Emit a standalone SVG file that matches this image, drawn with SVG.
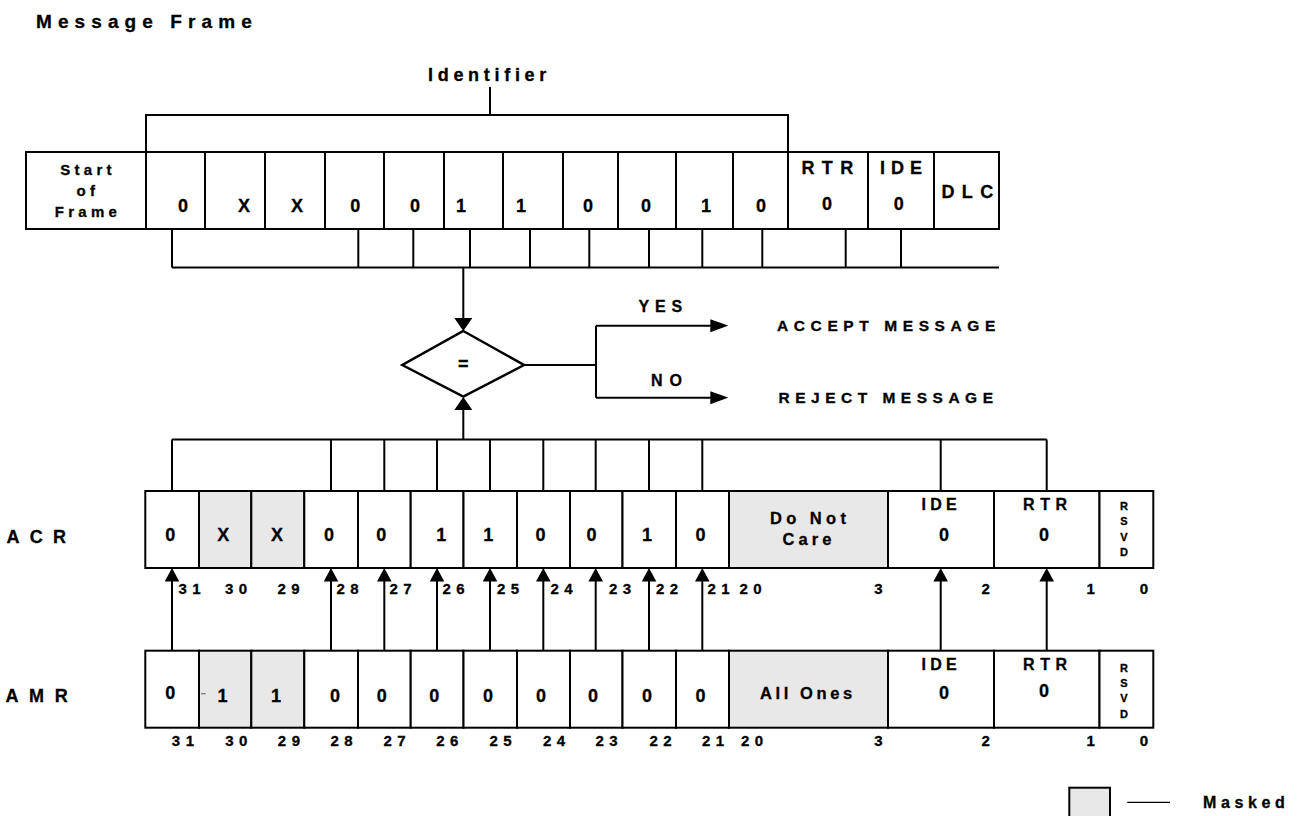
<svg xmlns="http://www.w3.org/2000/svg" width="1298" height="816" viewBox="0 0 1298 816">
<style>
.t{font-family:'Liberation Sans',Arial,Helvetica,sans-serif;font-weight:bold;fill:#000;stroke:#000;stroke-width:0.3}
.c{text-anchor:middle}
.d{font-size:18px;text-anchor:middle}
.n{font-size:15px;letter-spacing:5.5px}
.n1{font-size:15px;text-anchor:middle}
.s{font-size:11px;text-anchor:middle}
.box{fill:#fff;stroke:#000;stroke-width:2}
.m{fill:#e8e8e8;stroke:#000;stroke-width:2}
.ln{fill:none;stroke:#000;stroke-width:2}
</style>
<defs>
<marker id="av" markerUnits="userSpaceOnUse" markerWidth="14" markerHeight="15" refX="9" refY="7.3" orient="auto"><path d="M0,0 L13.5,7.3 L0,14.6Z" fill="#000"/></marker>
<marker id="ad" markerUnits="userSpaceOnUse" markerWidth="13" markerHeight="18" refX="8" refY="9" orient="auto"><path d="M0,0 L13,9 L0,18Z" fill="#000"/></marker>
<marker id="ah" markerUnits="userSpaceOnUse" markerWidth="18" markerHeight="13" refX="13" refY="6.5" orient="auto"><path d="M0,0 L18,6.5 L0,13Z" fill="#000"/></marker>
</defs>
<rect width="1298" height="816" fill="#fff"/>

<g id="title"><text class="t" x="36" y="28" font-size="19" letter-spacing="6.1">Message Frame</text></g>
<g id="identifier-label"><text class="t" x="428" y="80.5" font-size="18" letter-spacing="4.7">Identifier</text></g>

<g id="frame">
  <g id="f-sof"><rect class="box" x="26" y="152" width="120" height="77"/>
    <text class="t c" x="88" font-size="15" letter-spacing="4.3"><tspan x="88" y="174.5">Start</tspan><tspan x="88" y="195.5">of</tspan><tspan x="88" y="216.5">Frame</tspan></text></g>
  <g id="f-b10"><rect class="box" x="146" y="152" width="59" height="77"/><text class="t d" x="183" y="212">0</text></g>
  <g id="f-b9"><rect class="box" x="205" y="152" width="60" height="77"/><text class="t d" x="244" y="212">X</text></g>
  <g id="f-b8"><rect class="box" x="265" y="152" width="60" height="77"/><text class="t d" x="297" y="212">X</text></g>
  <g id="f-b7"><rect class="box" x="325" y="152" width="59" height="77"/><text class="t d" x="355.3" y="212">0</text></g>
  <g id="f-b6"><rect class="box" x="384" y="152" width="60" height="77"/><text class="t d" x="415" y="212">0</text></g>
  <g id="f-b5"><rect class="box" x="444" y="152" width="59" height="77"/><text class="t d" x="461" y="212">1</text></g>
  <g id="f-b4"><rect class="box" x="503" y="152" width="60" height="77"/><text class="t d" x="521" y="212">1</text></g>
  <g id="f-b3"><rect class="box" x="563" y="152" width="55" height="77"/><text class="t d" x="588" y="212">0</text></g>
  <g id="f-b2"><rect class="box" x="618" y="152" width="58" height="77"/><text class="t d" x="646" y="212">0</text></g>
  <g id="f-b1"><rect class="box" x="676" y="152" width="57" height="77"/><text class="t d" x="706" y="212">1</text></g>
  <g id="f-b0"><rect class="box" x="733" y="152" width="55" height="77"/><text class="t d" x="761" y="212">0</text></g>
  <g id="f-rtr"><rect class="box" x="788" y="152" width="80" height="77"/>
    <text class="t c" x="831" y="174" font-size="18" letter-spacing="7.3">RTR</text><text class="t d" x="827" y="209.5">0</text></g>
  <g id="f-ide"><rect class="box" x="868" y="152" width="66" height="77"/>
    <text class="t c" x="904" y="174" font-size="18" letter-spacing="6">IDE</text><text class="t d" x="898.7" y="209.5">0</text></g>
  <g id="f-dlc"><rect class="box" x="934" y="152" width="65" height="77"/>
    <text class="t c" x="971" y="198" font-size="18" letter-spacing="7.3">DLC</text></g>
</g>

<g id="compare">
  <polygon points="463.3,331 524,365 463.3,396.7 402.3,365" fill="#fff" stroke="#000" stroke-width="2.5"/>
  <text class="t c" x="463.3" y="369.8" font-size="18">=</text>
</g>

<g id="results">
  <text class="t" x="638.5" y="311.7" font-size="16" letter-spacing="5.8">YES</text>
  <text class="t" x="651" y="386.4" font-size="16" letter-spacing="7">NO</text>
  <text class="t" x="777" y="330.5" font-size="15.5" letter-spacing="5.6">ACCEPT MESSAGE</text>
  <text class="t" x="778.5" y="402.8" font-size="15.5" letter-spacing="5.5">REJECT MESSAGE</text>
</g>

<g id="acr">
  <text class="t" x="6.5" y="542.5" font-size="18" letter-spacing="10.2">ACR</text>
  <g id="acr-31"><rect class="box" x="145.3" y="491" width="53.7" height="77"/><text class="t d" x="170.3" y="541">0</text></g>
  <g id="acr-30"><rect class="m" x="199" y="491" width="52.3" height="77"/><text class="t d" x="223.3" y="541">X</text></g>
  <g id="acr-29"><rect class="m" x="251.3" y="491" width="53" height="77"/><text class="t d" x="277" y="541">X</text></g>
  <g id="acr-28"><rect class="box" x="304.3" y="491" width="53.7" height="77"/><text class="t d" x="329" y="541">0</text></g>
  <g id="acr-27"><rect class="box" x="358" y="491" width="52.7" height="77"/><text class="t d" x="381.3" y="541">0</text></g>
  <g id="acr-26"><rect class="box" x="410.7" y="491" width="52.8" height="77"/><text class="t d" x="441.3" y="541">1</text></g>
  <g id="acr-25"><rect class="box" x="463.5" y="491" width="53.5" height="77"/><text class="t d" x="488.3" y="541">1</text></g>
  <g id="acr-24"><rect class="box" x="517" y="491" width="53" height="77"/><text class="t d" x="540.6" y="541">0</text></g>
  <g id="acr-23"><rect class="box" x="570" y="491" width="52.5" height="77"/><text class="t d" x="591.4" y="541">0</text></g>
  <g id="acr-22"><rect class="box" x="622.5" y="491" width="53.5" height="77"/><text class="t d" x="647" y="541">1</text></g>
  <g id="acr-21"><rect class="box" x="676" y="491" width="53" height="77"/><text class="t d" x="700.5" y="541">0</text></g>
  <g id="acr-dnc"><rect class="m" x="729" y="491" width="159" height="77"/>
    <text class="t c" x="810.2" y="524.2" font-size="16.5" letter-spacing="4.4">Do Not</text>
    <text class="t c" x="809" y="544.9" font-size="16.5" letter-spacing="4.1">Care</text></g>
  <g id="acr-ide"><rect class="box" x="888" y="491" width="106" height="77"/>
    <text class="t c" x="941.2" y="509.7" font-size="16" letter-spacing="4.3">IDE</text><text class="t d" x="944" y="540.5">0</text></g>
  <g id="acr-rtr"><rect class="box" x="994" y="491" width="105.5" height="77"/>
    <text class="t c" x="1047.8" y="509.7" font-size="16" letter-spacing="5.5">RTR</text><text class="t d" x="1044" y="540.5">0</text></g>
  <g id="acr-rsvd"><rect class="box" x="1099.5" y="491" width="53.8" height="77"/>
    <text class="t s" x="1124" y="509.7">R</text><text class="t s" x="1124" y="524.7">S</text><text class="t s" x="1124" y="540.7">V</text><text class="t s" x="1124" y="556.3">D</text></g>
  <g id="acr-bits">
    <text class="t n" x="178.5" y="594.4">31</text><text class="t n" x="225" y="594.4">30</text><text class="t n" x="277.5" y="594.4">29</text>
    <text class="t n" x="336.5" y="594.4">28</text><text class="t n" x="389.5" y="594.4">27</text><text class="t n" x="442.5" y="594.4">26</text>
    <text class="t n" x="497" y="594.4">25</text><text class="t n" x="550.5" y="594.4">24</text><text class="t n" x="609" y="594.4">23</text>
    <text class="t n" x="656" y="594.4">22</text><text class="t n" x="707.5" y="594.4">21</text><text class="t n" x="739.5" y="594.4">20</text>
    <text class="t n1" x="878.3" y="594.4">3</text><text class="t n1" x="985.7" y="594.4">2</text><text class="t n1" x="1090.7" y="594.4">1</text><text class="t n1" x="1144" y="594.4">0</text>
  </g>
</g>

<g id="amr">
  <text class="t" x="5.5" y="701.5" font-size="18" letter-spacing="10.6">AMR</text>
  <g id="amr-31"><rect class="box" x="145.3" y="650.7" width="53.7" height="77"/><text class="t d" x="170.3" y="698.7">0</text></g>
  <g id="amr-30"><rect class="m" x="199" y="650.7" width="52.3" height="77"/><line x1="201" y1="693.7" x2="205.7" y2="693.7" stroke="#888" stroke-width="1.5"/><text class="t d" x="222.5" y="701.5">1</text></g>
  <g id="amr-29"><rect class="m" x="251.3" y="650.7" width="53" height="77"/><text class="t d" x="276" y="701.5">1</text></g>
  <g id="amr-28"><rect class="box" x="304.3" y="650.7" width="53.7" height="77"/><text class="t d" x="335" y="701.5">0</text></g>
  <g id="amr-27"><rect class="box" x="358" y="650.7" width="52.7" height="77"/><text class="t d" x="381.7" y="701.5">0</text></g>
  <g id="amr-26"><rect class="box" x="410.7" y="650.7" width="52.8" height="77"/><text class="t d" x="434.3" y="701.5">0</text></g>
  <g id="amr-25"><rect class="box" x="463.5" y="650.7" width="53.5" height="77"/><text class="t d" x="488" y="701.5">0</text></g>
  <g id="amr-24"><rect class="box" x="517" y="650.7" width="53" height="77"/><text class="t d" x="541" y="701.5">0</text></g>
  <g id="amr-23"><rect class="box" x="570" y="650.7" width="52.5" height="77"/><text class="t d" x="593" y="701.5">0</text></g>
  <g id="amr-22"><rect class="box" x="622.5" y="650.7" width="53.5" height="77"/><text class="t d" x="647" y="701.5">0</text></g>
  <g id="amr-21"><rect class="box" x="676" y="650.7" width="53" height="77"/><text class="t d" x="700.5" y="701.5">0</text></g>
  <g id="amr-ones"><rect class="m" x="729" y="650.7" width="159" height="77"/>
    <text class="t" x="760" y="699.2" font-size="16.5" letter-spacing="3.6">All Ones</text></g>
  <g id="amr-ide"><rect class="box" x="888" y="650.7" width="106" height="77"/>
    <text class="t c" x="941.2" y="669.7" font-size="16" letter-spacing="4.3">IDE</text><text class="t d" x="944" y="699.1">0</text></g>
  <g id="amr-rtr"><rect class="box" x="994" y="650.7" width="105.5" height="77"/>
    <text class="t c" x="1047.8" y="669.7" font-size="16" letter-spacing="5.5">RTR</text><text class="t d" x="1044" y="697.1">0</text></g>
  <g id="amr-rsvd"><rect class="box" x="1099.5" y="650.7" width="53.8" height="77"/>
    <text class="t s" x="1124" y="671.7">R</text><text class="t s" x="1124" y="687">S</text><text class="t s" x="1124" y="702">V</text><text class="t s" x="1124" y="717.7">D</text></g>
  <g id="amr-bits">
    <text class="t n" x="171.8" y="745.9">31</text><text class="t n" x="225.2" y="745.9">30</text><text class="t n" x="277.8" y="745.9">29</text>
    <text class="t n" x="330.5" y="745.9">28</text><text class="t n" x="383.5" y="745.9">27</text><text class="t n" x="436.2" y="745.9">26</text>
    <text class="t n" x="489.5" y="745.9">25</text><text class="t n" x="543" y="745.9">24</text><text class="t n" x="595.5" y="745.9">23</text>
    <text class="t n" x="649.5" y="745.9">22</text><text class="t n" x="702" y="745.9">21</text><text class="t n" x="741" y="745.9">20</text>
    <text class="t n1" x="878.3" y="745.9">3</text><text class="t n1" x="985.7" y="745.9">2</text><text class="t n1" x="1090.7" y="745.9">1</text><text class="t n1" x="1144" y="745.9">0</text>
  </g>
</g>

<g id="legend">
  <rect class="m" x="1069.3" y="787.7" width="40.7" height="40"/>
  <line x1="1127.3" y1="802.3" x2="1170" y2="802.3" stroke="#000" stroke-width="1.3"/>
  <text class="t" x="1203" y="808.3" font-size="16" letter-spacing="4.6">Masked</text>
</g>

<g id="connectors" class="ln">
  <path d="M490,87 V115 M146,152 V115 H788 V152"/>
  <path d="M172,229 V267.5 M358.3,229 V267.5 M413.3,229 V267.5 M470,229 V267.5 M530,229 V267.5 M589.3,229 V267.5 M649,229 V267.5 M702.3,229 V267.5 M762.3,229 V267.5 M845.7,229 V267.5 M901,229 V267.5 M172,267.5 H999"/>
  <line x1="463.3" y1="267.5" x2="463.3" y2="326" marker-end="url(#ad)"/>
  <line x1="463.3" y1="439.5" x2="463.3" y2="402" marker-end="url(#ad)"/>
  <path d="M524,365 H596 M596,325.7 V397.7"/>
  <line x1="596" y1="325.7" x2="723.3" y2="325.7" marker-end="url(#ah)"/>
  <line x1="596" y1="397.7" x2="723.3" y2="397.7" marker-end="url(#ah)"/>
  <path d="M172,439.5 H1046.7 M172,439.5 V491 M331,439.5 V491 M384.3,439.5 V491 M437,439.5 V491 M490,439.5 V491 M543.3,439.5 V491 M595.7,439.5 V491 M649,439.5 V491 M702.3,439.5 V491 M940.7,439.5 V491 M1046.7,439.5 V491"/>
  <line x1="172" y1="650.7" x2="172" y2="572.5" marker-end="url(#av)"/>
  <line x1="331" y1="650.7" x2="331" y2="572.5" marker-end="url(#av)"/>
  <line x1="384.3" y1="650.7" x2="384.3" y2="572.5" marker-end="url(#av)"/>
  <line x1="437" y1="650.7" x2="437" y2="572.5" marker-end="url(#av)"/>
  <line x1="490" y1="650.7" x2="490" y2="572.5" marker-end="url(#av)"/>
  <line x1="543.3" y1="650.7" x2="543.3" y2="572.5" marker-end="url(#av)"/>
  <line x1="595.7" y1="650.7" x2="595.7" y2="572.5" marker-end="url(#av)"/>
  <line x1="649" y1="650.7" x2="649" y2="572.5" marker-end="url(#av)"/>
  <line x1="702.3" y1="650.7" x2="702.3" y2="572.5" marker-end="url(#av)"/>
  <line x1="940.7" y1="650.7" x2="940.7" y2="572.5" marker-end="url(#av)"/>
  <line x1="1046.7" y1="650.7" x2="1046.7" y2="572.5" marker-end="url(#av)"/>
</g>
</svg>
